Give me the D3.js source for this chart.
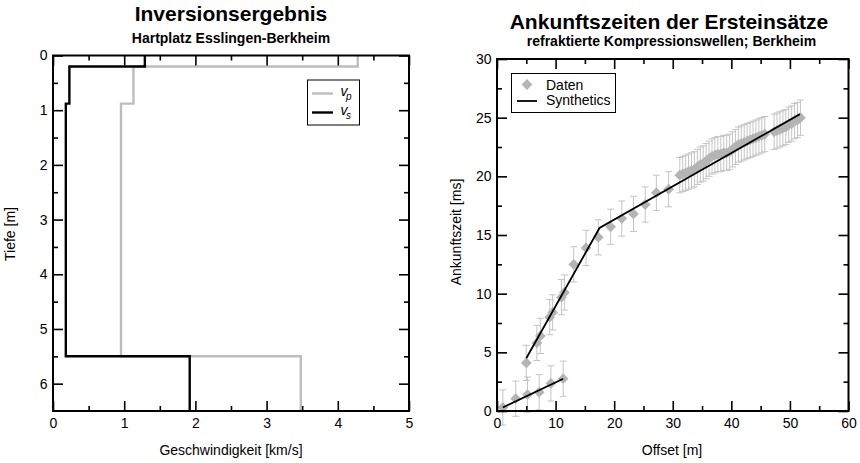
<!DOCTYPE html>
<html>
<head>
<meta charset="utf-8">
<script src="https://cdn.jsdelivr.net/npm/d3@7"></script>
<style>
  body { margin: 0; background: #fff; }
  svg { display: block; font-family: "Liberation Sans", Arial, Helvetica, sans-serif; }
</style>
</head>
<body>
<svg id="chart" width="860" height="463"></svg>
<script>
// ---- Velocity model (layer tops in m, velocities in km/s) ----
const layerTop = [0, 0.2, 0.88, 5.5];
const modelBottom = 6.5;
const vp = [4.28, 1.13, 0.955, 3.48];
const vs = [1.29, 0.23, 0.18, 1.92];

const depthTicks = [0, 1, 2, 3, 4, 5, 6];
const depthMinor = [0.5, 1.5, 2.5, 3.5, 4.5, 5.5];
const velTicks = [0, 1, 2, 3, 4, 5];
const velMinor = [0.5, 1.5, 2.5, 3.5, 4.5];

// ---- First-arrival picks (offset in m, time in ms) ----
const directOffset = [1.0, 3.2, 5.2, 7.2, 9.2, 11.3];
const directTime   = [0.3, 1.05, 1.4, 1.6, 2.35, 2.75];

const refrOffset = [5.0, 6.8, 7.4, 9.0, 9.5, 11.0, 11.5, 13.1, 15.2, 17.3, 19.4, 21.3, 23.3, 25.3, 27.2, 29.3,
  31.2, 31.7, 32.2, 32.7, 33.2, 33.7, 34.2, 34.7, 35.2, 35.7, 36.2, 36.7, 37.2, 37.7, 38.2, 38.7,
  39.2, 39.7, 40.2, 40.7, 41.2, 41.7, 42.2, 42.7, 43.2, 43.7, 44.2, 44.7, 45.2, 45.7,
  47.3, 47.8, 48.3, 48.8, 49.3, 49.8, 50.3, 50.8, 51.3, 51.8];
const refrTime = [4.1, 5.8, 6.4, 8.0, 8.4, 9.7, 10.1, 12.5, 13.9, 14.8, 15.7, 16.4, 16.8, 17.6, 18.6, 18.9,
  20.1, 20.2, 20.3, 20.4, 20.5, 20.6, 20.8, 21.0, 21.1, 21.3, 21.5, 21.7, 21.8, 21.9, 21.9, 22.0,
  22.0, 22.1, 22.3, 22.5, 22.7, 22.8, 22.9, 23.0, 23.1, 23.2, 23.3, 23.4, 23.5, 23.6,
  23.8, 23.9, 24.0, 24.1, 24.2, 24.4, 24.5, 24.7, 24.8, 25.0];
const pickError = 1.5;

// ---- Synthetic travel times ----
const synthDirectOffset = [1.0, 11.3];
const synthDirectTime   = [0.3, 2.75];
const synthRefrOffset = [5.0, 17.5, 51.7];
const synthRefrTime   = [4.5, 15.6, 25.3];

const offsetTicks = [0, 10, 20, 30, 40, 50, 60];
const offsetMinor = [5, 15, 25, 35, 45, 55];
const timeTicks = [0, 5, 10, 15, 20, 25, 30];
const timeMinor = [2.5, 7.5, 12.5, 17.5, 22.5, 27.5];

const svg = d3.select("#chart");
const FONT = '"Liberation Sans", Arial, Helvetica, sans-serif';
const gray = "#bdbdbd";

// Boxed frame with inward ticks on all four sides
function drawFrame(x, y, xMajor, xMinor, yMajor, yMinor) {
  const [xl, xr] = x.range();
  const yt = Math.min(...y.range()), yb = Math.max(...y.range());
  const g = svg.append("g");
  const style = sel => {
    sel.select(".domain").remove();
    sel.selectAll("line").attr("stroke", "#000").attr("stroke-width", 1.6);
    sel.selectAll("text").attr("font-size", 14).attr("font-family", FONT).attr("fill", "#000");
  };
  // bottom
  g.append("g").attr("transform", `translate(0,${yb})`)
    .call(d3.axisBottom(x).tickValues(xMajor).tickSizeInner(-10).tickSizeOuter(0).tickPadding(7).tickFormat(d3.format("d"))).call(style);
  g.append("g").attr("transform", `translate(0,${yb})`)
    .call(d3.axisBottom(x).tickValues(xMinor).tickSizeInner(-5).tickSizeOuter(0).tickFormat("")).call(style);
  // top
  g.append("g").attr("transform", `translate(0,${yt})`)
    .call(d3.axisTop(x).tickValues(xMajor).tickSizeInner(-10).tickSizeOuter(0).tickFormat("")).call(style);
  g.append("g").attr("transform", `translate(0,${yt})`)
    .call(d3.axisTop(x).tickValues(xMinor).tickSizeInner(-5).tickSizeOuter(0).tickFormat("")).call(style);
  // left
  g.append("g").attr("transform", `translate(${xl},0)`)
    .call(d3.axisLeft(y).tickValues(yMajor).tickSizeInner(-10).tickSizeOuter(0).tickPadding(5.5).tickFormat(d3.format("d"))).call(style);
  g.append("g").attr("transform", `translate(${xl},0)`)
    .call(d3.axisLeft(y).tickValues(yMinor).tickSizeInner(-5).tickSizeOuter(0).tickFormat("")).call(style);
  // right
  g.append("g").attr("transform", `translate(${xr},0)`)
    .call(d3.axisRight(y).tickValues(yMajor).tickSizeInner(-10).tickSizeOuter(0).tickFormat("")).call(style);
  g.append("g").attr("transform", `translate(${xr},0)`)
    .call(d3.axisRight(y).tickValues(yMinor).tickSizeInner(-5).tickSizeOuter(0).tickFormat("")).call(style);
  g.append("rect").attr("x", xl).attr("y", yt).attr("width", xr - xl).attr("height", yb - yt)
    .attr("fill", "none").attr("stroke", "#000").attr("stroke-width", 2);
}

function text(x, y, str, size, opts = {}) {
  const t = svg.append("text").attr("x", x).attr("y", y).text(str)
    .attr("font-size", size).attr("font-family", FONT).attr("fill", "#000")
    .attr("text-anchor", opts.anchor || "middle");
  if (opts.bold) t.attr("font-weight", "bold");
  if (opts.italic) t.attr("font-style", "italic");
  if (opts.rotate) t.attr("transform", `rotate(-90,${x},${y})`);
  return t;
}

// ================= Left panel: velocity-depth model =================
const xV = d3.scaleLinear().domain([0, 5]).range([53, 409]);
const yD = d3.scaleLinear().domain([0, 6.5]).range([55.5, 411]);

// staircase points for a layered model
function profile(vel) {
  const pts = [];
  vel.forEach((v, i) => {
    const bottom = i + 1 < layerTop.length ? layerTop[i + 1] : modelBottom;
    pts.push([v, layerTop[i]]);
    pts.push([v, bottom]);
  });
  return pts;
}
const stepLine = d3.line().x(d => xV(d[0])).y(d => yD(d[1]));

svg.append("path").attr("d", stepLine(profile(vp)))
  .attr("fill", "none").attr("stroke", gray).attr("stroke-width", 2.4);
svg.append("path").attr("d", stepLine(profile(vs)))
  .attr("fill", "none").attr("stroke", "#000").attr("stroke-width", 2.4);

drawFrame(xV, yD, velTicks, velMinor, depthTicks, depthMinor);

// legend
svg.append("rect").attr("x", 307.5).attr("y", 80).attr("width", 52).attr("height", 45)
  .attr("fill", "#fff").attr("stroke", "#000").attr("stroke-width", 1);
svg.append("line").attr("x1", 312).attr("x2", 333).attr("y1", 93.5).attr("y2", 93.5)
  .attr("stroke", gray).attr("stroke-width", 2.4);
svg.append("line").attr("x1", 312).attr("x2", 333).attr("y1", 112.5).attr("y2", 112.5)
  .attr("stroke", "#000").attr("stroke-width", 2.4);
text(340.5, 96, "v", 14, { anchor: "start", italic: true });
text(346, 99.5, "p", 10, { anchor: "start", italic: true });
text(340.5, 115, "v", 14, { anchor: "start", italic: true });
text(346, 118.5, "s", 10, { anchor: "start", italic: true });

text(231, 21, "Inversionsergebnis", 21, { bold: true });
text(231, 42.5, "Hartplatz Esslingen-Berkheim", 14, { bold: true });
text(231, 455, "Geschwindigkeit [km/s]", 14);
text(15, 234, "Tiefe [m]", 14, { rotate: true });

// ================= Right panel: first-arrival times =================
const xO = d3.scaleLinear().domain([0, 60]).range([497, 848.5]);
const yT = d3.scaleLinear().domain([0, 30]).range([411, 59]);

const picks = directOffset.map((o, i) => ({ o, t: directTime[i] }))
  .concat(refrOffset.map((o, i) => ({ o, t: refrTime[i] })));

// error bars
const eb = svg.append("g").attr("stroke", "#c4c4c4").attr("stroke-width", 1).attr("fill", "none");
picks.forEach(p => {
  const cx = xO(p.o), y1 = yT(p.t + pickError), y2 = yT(p.t - pickError);
  eb.append("line").attr("x1", cx).attr("x2", cx).attr("y1", y1).attr("y2", y2);
  eb.append("line").attr("x1", cx - 3.5).attr("x2", cx + 3.5).attr("y1", y1).attr("y2", y1);
  eb.append("line").attr("x1", cx - 3.5).attr("x2", cx + 3.5).attr("y1", y2).attr("y2", y2);
});

// diamonds
const diamond = d3.symbol().type(d3.symbolSquare).size(58);
svg.append("g").selectAll("path").data(picks).join("path")
  .attr("d", diamond)
  .attr("transform", d => `translate(${xO(d.o)},${yT(d.t)}) rotate(45)`)
  .attr("fill", "#b4b4b4");

// synthetic curves
const synthLine = d3.line().x(d => xO(d[0])).y(d => yT(d[1]));
svg.append("path").attr("d", synthLine(synthDirectOffset.map((o, i) => [o, synthDirectTime[i]])))
  .attr("fill", "none").attr("stroke", "#000").attr("stroke-width", 1.8);
svg.append("path").attr("d", synthLine(synthRefrOffset.map((o, i) => [o, synthRefrTime[i]])))
  .attr("fill", "none").attr("stroke", "#000").attr("stroke-width", 1.8);

drawFrame(xO, yT, offsetTicks, offsetMinor, timeTicks, timeMinor);

// legend
svg.append("rect").attr("x", 511.5).attr("y", 73.5).attr("width", 104).attr("height", 39)
  .attr("fill", "#fff").attr("stroke", "#000").attr("stroke-width", 1);
svg.append("path").attr("d", diamond)
  .attr("transform", "translate(527,84.5) rotate(45)").attr("fill", "#b4b4b4");
svg.append("line").attr("x1", 517).attr("x2", 537).attr("y1", 101).attr("y2", 101)
  .attr("stroke", "#000").attr("stroke-width", 1.8);
text(546, 89.5, "Daten", 14, { anchor: "start" });
text(546, 105, "Synthetics", 14, { anchor: "start" });

text(669, 29, "Ankunftszeiten der Ersteinsätze", 21, { bold: true });
text(671.5, 45.5, "refraktierte Kompressionswellen; Berkheim", 14, { bold: true });
text(672, 455, "Offset [m]", 14);
text(461, 232, "Ankunftszeit [ms]", 14, { rotate: true });
</script>
</body>
</html>
